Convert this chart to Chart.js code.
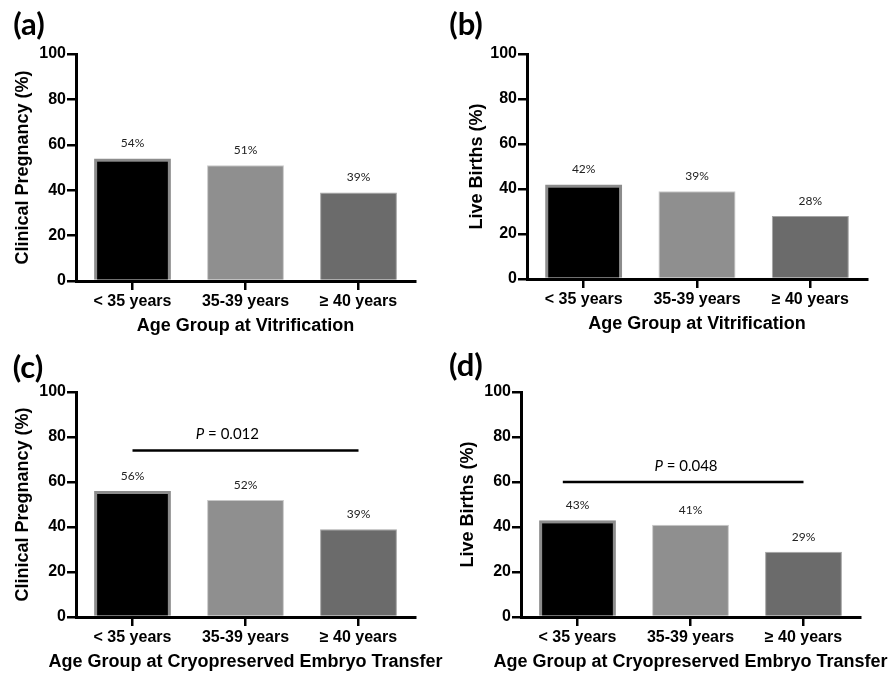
<!DOCTYPE html>
<html>
<head>
<meta charset="utf-8">
<script src="https://cdn.jsdelivr.net/npm/chart.js@4.4.1/dist/chart.umd.min.js"></script>
<style>
  body { margin: 0; background: #fff; }
  #wrap { position: relative; width: 895px; height: 676px; overflow: hidden; }
  canvas { position: absolute; }
</style>
</head>
<body>
<div id="wrap">
  <canvas id="chartA" width="445" height="342" style="left:0;top:0"></canvas>
  <canvas id="chartB" width="450" height="342" style="left:445px;top:0"></canvas>
  <canvas id="chartC" width="445" height="346" style="left:0;top:330px"></canvas>
  <canvas id="chartD" width="450" height="346" style="left:445px;top:330px"></canvas>
</div>
<script>
// ===== Data =====
const ageGroups = ['< 35 years', '35-39 years', '≥ 40 years'];
const yTicks = [0, 20, 40, 60, 80, 100];

const pregnancyVitrification = [54, 51, 39];   // (a)
const birthsVitrification = [42, 39, 28];      // (b)
const pregnancyTransfer = [56, 52, 39];        // (c)
const birthsTransfer = [43, 41, 29];           // (d)

// significance bars: [from category, to category, y value], text and text anchor (category)
const sigTransferPregnancy = { from: 0, to: 2, y: 74, text: '0.012', textAt: 0.84 };
const sigTransferBirths = { from: -0.13, to: 2, y: 60, text: '0.048', textAt: 0.96 };

const barFill = ['#000000', '#8f8f8f', '#6b6b6b'];
const barBorder = ['#8c8c8c', '#c8c8c8', '#a4a4a4'];
const barBorderWidth = [3, 1, 1];

const axisFont = '"Liberation Sans", Arial, sans-serif';

// ===== Plugin: value labels, p-value bar, x title, panel tag =====
const panelDecor = {
  id: 'panelDecor',
  afterDatasetsDraw(chart, args, opts) {
    const ctx = chart.ctx;
    const xs = chart.scales.x, ys = chart.scales.y, area = chart.chartArea;
    ctx.save();
    ctx.textAlign = 'center';
    ctx.textBaseline = 'middle';

    // value labels
    const ds = chart.data.datasets[0];
    ctx.font = '12px Lato, "Open Sans", sans-serif';
    ctx.fillStyle = '#222';
    chart.getDatasetMeta(0).data.forEach((bar, i) => {
      ctx.fillText(ds.data[i] + '%', bar.x, bar.y - 15);
    });

    // p-value bracket
    if (opts.sig) {
      const s = opts.sig;
      const yy = ys.getPixelForValue(s.y);
      ctx.strokeStyle = '#000';
      ctx.lineWidth = 2.5;
      ctx.beginPath();
      ctx.moveTo(xs.getPixelForValue(s.from), yy);
      ctx.lineTo(xs.getPixelForValue(s.to), yy);
      ctx.stroke();

      ctx.fillStyle = '#000';
      const cx = xs.getPixelForValue(s.textAt);
      const pPart = 'P';
      const rest = ' = ' + s.text;
      ctx.font = 'italic 15px Lato, sans-serif';
      const wP = ctx.measureText(pPart).width;
      ctx.font = '15px Lato, sans-serif';
      const wR = ctx.measureText(rest).width;
      const x0 = cx - (wP + wR) / 2;
      ctx.textAlign = 'left';
      ctx.font = 'italic 15px Lato, sans-serif';
      ctx.fillText(pPart, x0, yy - 16);
      ctx.font = '15px Lato, sans-serif';
      ctx.fillText(rest, x0 + wP, yy - 16);
      ctx.textAlign = 'center';
    }

    // x axis title
    ctx.fillStyle = '#000';
    ctx.font = 'bold 18px ' + axisFont;
    ctx.fillText(opts.xTitle, (area.left + area.right) / 2, area.bottom + 45);

    // panel tag
    ctx.font = 'bold 31px Lato, sans-serif';
    ctx.fillText(opts.tag, opts.tagPos[0], opts.tagPos[1]);
    ctx.restore();
  }
};

function makePanel(canvasId, values, cfg) {
  const ctx = document.getElementById(canvasId).getContext('2d');
  return new Chart(ctx, {
    type: 'bar',
    data: {
      labels: ageGroups,
      datasets: [{
        data: values,
        backgroundColor: barFill,
        borderColor: barBorder,
        borderWidth: barBorderWidth,
        categoryPercentage: 1,
        barPercentage: 0.68
      }]
    },
    options: {
      responsive: false,
      animation: false,
      events: [],
      layout: { padding: { left: 0, top: cfg.top, right: cfg.right, bottom: 0 } },
      plugins: {
        legend: { display: false },
        tooltip: { enabled: false },
        panelDecor: { xTitle: cfg.xTitle, tag: cfg.tag, tagPos: cfg.tagPos, sig: cfg.sig }
      },
      scales: {
        x: {
          afterFit: s => { s.height = cfg.xHeight; },
          grid: { display: true, drawOnChartArea: false, drawTicks: true, offset: false, tickLength: 9, color: '#000', lineWidth: 2.5 },
          border: { display: true, color: '#000', width: 3 },
          ticks: { color: '#000', padding: 2, maxRotation: 0, font: { family: axisFont, size: 16, weight: 'bold' } }
        },
        y: {
          min: 0, max: 100,
          afterFit: s => { s.width = cfg.yWidth; },
          afterBuildTicks: s => { s.ticks = yTicks.map(v => ({ value: v })); },
          grid: { display: true, drawOnChartArea: false, drawTicks: true, tickLength: 9, color: '#000', lineWidth: 2.5 },
          border: { display: true, color: '#000', width: 3 },
          ticks: { color: '#000', padding: 1, font: { family: axisFont, size: 16, weight: 'bold' } },
          title: { display: true, text: cfg.yTitle, color: '#000', padding: { top: cfg.yTitlePad, bottom: 0 }, font: { family: axisFont, size: 18, weight: 'bold' } }
        }
      }
    },
    plugins: [panelDecor]
  });
}

makePanel('chartA', pregnancyVitrification, {
  top: 54, right: 30, xHeight: 61, yWidth: 76, yTitlePad: 12,
  yTitle: 'Clinical Pregnancy (%)', xTitle: 'Age Group at Vitrification', tag: '(a)', tagPos: [29, 25]
});
makePanel('chartB', birthsVitrification, {
  top: 54, right: 28, xHeight: 63, yWidth: 82, yTitlePad: 21,
  yTitle: 'Live Births (%)', xTitle: 'Age Group at Vitrification', tag: '(b)', tagPos: [21, 25]
});
makePanel('chartC', pregnancyTransfer, {
  top: 62, right: 30, xHeight: 59, yWidth: 76, yTitlePad: 12,
  yTitle: 'Clinical Pregnancy (%)', xTitle: 'Age Group at Cryopreserved Embryo Transfer', tag: '(c)', tagPos: [28, 38],
  sig: sigTransferPregnancy
});
makePanel('chartD', birthsTransfer, {
  top: 62, right: 35, xHeight: 59, yWidth: 76, yTitlePad: 12,
  yTitle: 'Live Births (%)', xTitle: 'Age Group at Cryopreserved Embryo Transfer', tag: '(d)', tagPos: [21, 36],
  sig: sigTransferBirths
});
</script>
</body>
</html>
